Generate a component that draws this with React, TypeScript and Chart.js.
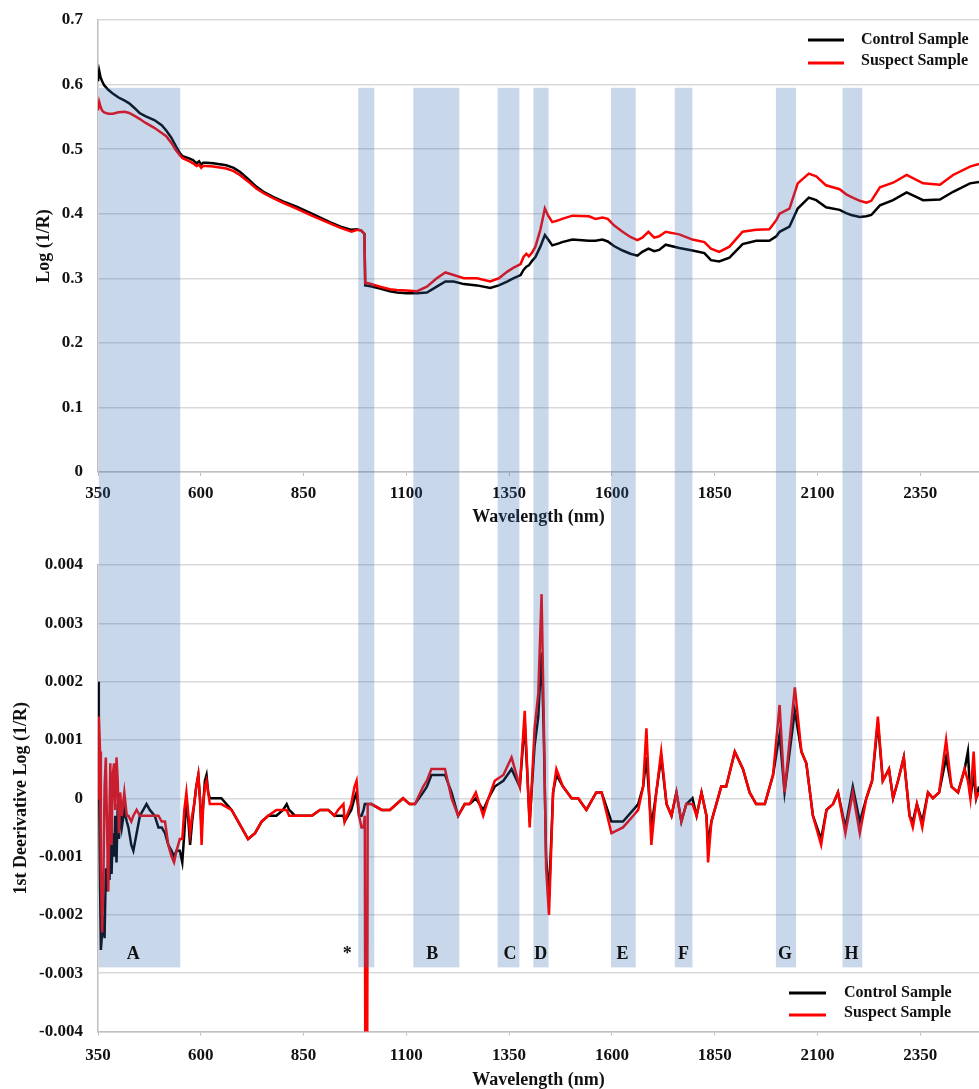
import { useEffect, useRef } from "react";
import { Chart, registerables } from "chart.js";

Chart.register(...registerables);

// ---------- axes ----------
const xTicks = [350, 600, 850, 1100, 1350, 1600, 1850, 2100, 2350];
const X_MIN = 350;
const X_MAX = 2493;
const topYTicks = [0, 0.1, 0.2, 0.3, 0.4, 0.5, 0.6, 0.7];
const derivYTicks = [-0.004, -0.003, -0.002, -0.001, 0, 0.001, 0.002, 0.003, 0.004];

const seriesNames = ["Control Sample", "Suspect Sample"];
const seriesColors = ["#000000", "#ff0000"];

// ---------- top chart: Log(1/R) ----------
const topWavelength = [
  350, 353, 356, 360, 365, 375, 386, 400, 415, 426,
  440, 451, 465, 487, 505, 516, 528, 540, 550, 556,
  570, 581, 590, 596, 601, 606, 613, 630, 662, 680,
  695, 715, 735, 755, 776, 800, 833, 870, 914, 940,
  967, 980, 990, 998, 1000, 1010, 1036, 1060, 1077, 1100,
  1126, 1150, 1174, 1195, 1215, 1240, 1272, 1304, 1325, 1345,
  1360, 1378, 1385, 1392, 1398, 1406, 1414, 1426, 1437, 1445,
  1455, 1471, 1479, 1504, 1544, 1560, 1577, 1590, 1605, 1626,
  1645, 1662, 1674, 1689, 1703, 1715, 1731, 1764, 1796, 1825,
  1841, 1861, 1886, 1918, 1951, 1983, 2000, 2008, 2032, 2052,
  2079, 2097, 2121, 2154, 2170, 2182, 2203, 2219, 2231, 2252,
  2284, 2317, 2357, 2398, 2430, 2471, 2493,
];
const topControl = [
  0.605, 0.621, 0.612, 0.605, 0.599, 0.592, 0.586, 0.58, 0.575, 0.571,
  0.563, 0.556, 0.551, 0.545, 0.537, 0.529, 0.518, 0.504, 0.493, 0.489,
  0.486, 0.483, 0.478, 0.481, 0.476, 0.479, 0.479, 0.478, 0.475, 0.471,
  0.465, 0.454, 0.442, 0.433, 0.426, 0.419, 0.411, 0.4, 0.387, 0.38,
  0.375, 0.376, 0.374, 0.369, 0.289, 0.288, 0.284, 0.28, 0.278, 0.277,
  0.277, 0.278, 0.287, 0.295, 0.295, 0.291, 0.289, 0.285, 0.289, 0.295,
  0.3, 0.305, 0.313, 0.318, 0.32, 0.327, 0.333, 0.349, 0.367, 0.36,
  0.351, 0.354, 0.356, 0.36, 0.358, 0.358, 0.36, 0.357, 0.35, 0.343,
  0.338, 0.335, 0.341, 0.346, 0.342, 0.344, 0.352, 0.347, 0.343, 0.339,
  0.328, 0.326, 0.332, 0.353, 0.358, 0.358, 0.365, 0.372, 0.38, 0.408,
  0.425, 0.421, 0.41, 0.406, 0.401, 0.398, 0.395, 0.396, 0.398, 0.413,
  0.421, 0.433, 0.421, 0.422, 0.434, 0.447, 0.449,
];
const topSuspect = [
  0.56, 0.573, 0.566, 0.56, 0.557, 0.555, 0.555, 0.557, 0.558, 0.556,
  0.551, 0.547, 0.541, 0.533, 0.525, 0.52, 0.51, 0.498, 0.49, 0.486,
  0.482, 0.478, 0.474, 0.476, 0.471, 0.474, 0.474, 0.473, 0.47, 0.466,
  0.46, 0.45, 0.439, 0.431, 0.424, 0.417, 0.408, 0.397, 0.385, 0.378,
  0.372, 0.375, 0.374, 0.369, 0.293, 0.292, 0.287, 0.283, 0.282, 0.281,
  0.28, 0.287, 0.3, 0.309, 0.305, 0.3, 0.3, 0.295, 0.3, 0.31,
  0.316, 0.322, 0.333, 0.338, 0.334, 0.34, 0.349, 0.375, 0.408, 0.397,
  0.387, 0.39, 0.392, 0.397, 0.396, 0.392, 0.394, 0.392, 0.382, 0.372,
  0.364, 0.359, 0.363, 0.372, 0.363, 0.365, 0.372, 0.368, 0.36, 0.356,
  0.346, 0.341, 0.349, 0.372, 0.375, 0.376, 0.39, 0.4, 0.408, 0.447,
  0.462, 0.458, 0.444, 0.438, 0.43, 0.426, 0.42, 0.417, 0.42, 0.441,
  0.448, 0.46, 0.447, 0.445, 0.46, 0.473, 0.477,
];

// ---------- bottom chart: 1st derivative ----------
const derivWavelength = [
  350, 352, 355, 357, 360, 363, 366, 369, 372, 375,
  378, 380, 383, 386, 389, 392, 395, 398, 401, 404,
  408, 414, 420, 424, 431, 436, 444, 452, 460, 468,
  476, 488, 497, 505, 513, 521, 529, 535, 541, 549,
  555, 560, 565, 570, 574, 579, 584, 589, 594, 598,
  602, 606, 610, 614, 618, 622, 650, 675, 699, 715,
  732, 748, 764, 784, 800, 809, 815, 829, 850, 870,
  890, 910, 925, 934, 947, 950, 966, 974, 979, 985,
  991, 996, 999, 1001, 1004, 1006, 1015, 1040, 1060, 1092,
  1108, 1121, 1141, 1150, 1161, 1172, 1181, 1194, 1210, 1226,
  1242, 1254, 1269, 1287, 1300, 1315, 1336, 1356, 1376, 1388,
  1400, 1412, 1421, 1429, 1434, 1440, 1447, 1457, 1465, 1481,
  1502, 1518, 1538, 1562, 1575, 1599, 1627, 1652, 1664, 1676,
  1684, 1696, 1708, 1720, 1733, 1745, 1757, 1769, 1781, 1796,
  1806, 1818, 1830, 1834, 1842, 1854, 1866, 1878, 1899, 1919,
  1935, 1951, 1972, 1992, 2008, 2020, 2045, 2061, 2073, 2089,
  2109, 2122, 2138, 2150, 2168, 2186, 2203, 2219, 2233, 2247,
  2259, 2274, 2284, 2296, 2310, 2324, 2332, 2342, 2355, 2369,
  2381, 2396, 2413, 2426, 2442, 2458, 2466, 2472, 2480, 2486,
  2493,
];
const derivControl = [
  0.002, 0.0012, -0.0015, -0.0026, -0.0023, -0.002, -0.0024, -0.0012, -0.0016, -0.0009,
  -0.0014, -0.0008, -0.0013, -0.0006, -0.001, -0.0003, -0.0011, -0.0001, -0.0007, -0.0002,
  -0.0005, -0.0002, -0.0004, -0.0005, -0.0008, -0.0009, -0.0006, -0.0003, -0.0002, -0.0001,
  -0.0002, -0.0003, -0.0005, -0.0005, -0.0006, -0.0008, -0.0009, -0.001, -0.0009, -0.0009,
  -0.0011, -0.0006, 0.0, -0.0004, -0.0008, -0.0004, -0.0001, 0.0002, 0.0004, 0.0,
  -0.0005, -0.0001, 0.0003, 0.0004, 0.0001, 0.0, 0.0, -0.0002, -0.0005, -0.0007,
  -0.0006, -0.0004, -0.0003, -0.0003, -0.0002, -0.0001, -0.0002, -0.0003, -0.0003, -0.0003,
  -0.0002, -0.0002, -0.0003, -0.0003, -0.0003, -0.0004, -0.0002, 0.0, 0.0001, -0.0003,
  -0.0003, -0.0002, -0.0001, -0.0001, -0.0001, -0.0001, -0.0001, -0.0002, -0.0002, 0.0,
  -0.0001, -0.0001, 0.0001, 0.0002, 0.0004, 0.0004, 0.0004, 0.0004, 0.0001, -0.0003,
  -0.0001, -0.0001, 0.0, -0.0002, 0.0, 0.0002, 0.0003, 0.0005, 0.0002, 0.0013,
  -0.0004, 0.0009, 0.0014, 0.0025, 0.0012, -0.001, -0.0017, 0.0001, 0.0004, 0.0002,
  0.0, 0.0, -0.0002, 0.0001, 0.0001, -0.0004, -0.0004, -0.0002, -0.0001, 0.0002,
  0.0007, -0.0005, 0.0001, 0.0007, -0.0001, -0.0003, 0.0001, -0.0004, -0.0001, 0.0,
  -0.0003, 0.0001, -0.0003, -0.0008, -0.0004, -0.0001, 0.0002, 0.0002, 0.0008, 0.0005,
  0.0001, -0.0001, -0.0001, 0.0004, 0.0011, 0.0001, 0.0015, 0.0008, 0.0006, -0.0003,
  -0.0007, -0.0002, -0.0001, 0.0001, -0.0005, 0.0002, -0.0004, 0.0, 0.0003, 0.0013,
  0.0003, 0.0005, 0.0, 0.0003, 0.0007, -0.0003, -0.0004, -0.0001, -0.0004, 0.0001,
  0.0, 0.0001, 0.0007, 0.0002, 0.0001, 0.0005, 0.0008, 0.0, 0.0004, 0.0,
  0.0002,
];
const derivSuspect = [
  0.0, 0.0014, 0.0008, -0.0012, -0.0023, -0.0015, 0.0002, 0.0007, -0.0005, -0.0016,
  -0.0002, 0.0006, -0.0008, 0.0004, 0.0006, -0.0002, 0.0007, 0.0003, -0.0006, 0.0001,
  -0.0003, 0.0001, -0.0003, -0.0003, -0.0004, -0.0003, -0.0002, -0.0003, -0.0003, -0.0003,
  -0.0003, -0.0003, -0.0003, -0.0004, -0.0004, -0.0008, -0.001, -0.0011, -0.0009, -0.0007,
  -0.0007, -0.0002, 0.0001, -0.0003, -0.0006, -0.0003, -0.0001, 0.0002, 0.0004, 0.0,
  -0.0008, -0.0001, 0.0002, 0.0003, 0.0001, -0.0001, -0.0001, -0.0002, -0.0005, -0.0007,
  -0.0006, -0.0004, -0.0003, -0.0002, -0.0002, -0.0002, -0.0003, -0.0003, -0.0003, -0.0003,
  -0.0002, -0.0002, -0.0003, -0.0002, -0.0001, -0.0004, -0.0001, 0.0002, 0.0003, -0.0003,
  -0.0005, -0.0005, -0.0003, -0.008, -0.008, -0.0001, -0.0001, -0.0002, -0.0002, 0.0,
  -0.0001, -0.0001, 0.0002, 0.0003, 0.0005, 0.0005, 0.0005, 0.0005, 0.0, -0.0003,
  -0.0001, -0.0001, 0.0001, -0.0003, 0.0, 0.0003, 0.0004, 0.0007, 0.0002, 0.0015,
  -0.0005, 0.0012, 0.0018, 0.0035, 0.0015, -0.0012, -0.002, 0.0001, 0.0005, 0.0002,
  0.0, 0.0, -0.0002, 0.0001, 0.0001, -0.0006, -0.0005, -0.0003, -0.0002, 0.0002,
  0.0012, -0.0008, 0.0001, 0.0008, -0.0001, -0.0003, 0.0001, -0.0004, -0.0001, -0.0001,
  -0.0003, 0.0001, -0.0003, -0.0011, -0.0004, -0.0001, 0.0002, 0.0002, 0.0008, 0.0005,
  0.0001, -0.0001, -0.0001, 0.0004, 0.0016, 0.0001, 0.0019, 0.0008, 0.0006, -0.0003,
  -0.0008, -0.0002, -0.0001, 0.0001, -0.0006, 0.0001, -0.0006, 0.0, 0.0003, 0.0014,
  0.0003, 0.0005, 0.0, 0.0003, 0.0007, -0.0003, -0.0005, -0.0001, -0.0005, 0.0001,
  0.0, 0.0001, 0.001, 0.0002, 0.0001, 0.0005, 0.0003, 0.0, 0.0008, 0.0,
  0.0001,
];

// ---------- highlighted regions ----------
const bandStart = [352, 983, 1117, 1322, 1409, 1598, 1753, 1999, 2161];
const bandEnd = [550, 1022, 1229, 1375, 1446, 1658, 1796, 2048, 2209];
const bandLabels = ["A", "*", "B", "C", "D", "E", "F", "G", "H"];
const bandLabelAt = [436, 956, 1163, 1352, 1427, 1626, 1774, 2021, 2183];
const BAND_TOP_VALUE = 0.595;
const BAND_BOTTOM_VALUE = -0.0029;
const BAND_LABEL_VALUE = -0.00268;

// ---------- styling ----------
const FONT = "'Liberation Serif', 'Times New Roman', Times, serif";
const TEXT = "#111111";
const GRID = "#d9d9d9";
const AXIS = "#bfbfbf";
const BAND_FILL = "rgba(52,112,176,0.27)";

function toPoints(xs: number[], ys: number[]) {
  return xs.map((x, i) => ({ x, y: ys[i] }));
}

function makeDatasets(xs: number[], control: number[], suspect: number[]) {
  return [
    {
      label: seriesNames[0],
      data: toPoints(xs, control),
      borderColor: seriesColors[0],
      backgroundColor: seriesColors[0],
      borderWidth: 2.5,
      pointRadius: 0,
      tension: 0,
      order: 1,
    },
    {
      label: seriesNames[1],
      data: toPoints(xs, suspect),
      borderColor: seriesColors[1],
      backgroundColor: seriesColors[1],
      borderWidth: 2.5,
      pointRadius: 0,
      tension: 0,
      order: 0,
    },
  ];
}

type Cfg = {
  yMin: number;
  yMax: number;
  yTicks: number[];
  yFmt: (v: number) => string;
  yTitle: string;
  yTitlePad: number;
  xHeight: number;
  xTickPad: number;
  xTitlePad: number;
  padTop: number;
  bandsFromTop: boolean;
  legendLineX: [number, number];
  legendTextX: number;
  legendY: [number, number];
  showBandLabels: boolean;
};

function overlayPlugin(cfg: Cfg) {
  return {
    id: "overlay",
    afterDraw(chart: any) {
      const { ctx } = chart;
      const x = chart.scales.x;
      const y = chart.scales.y;
      ctx.save();
      // translucent highlight bands
      ctx.fillStyle = BAND_FILL;
      for (let i = 0; i < bandStart.length; i++) {
        const x0 = x.getPixelForValue(bandStart[i]);
        const x1 = x.getPixelForValue(bandEnd[i]);
        let y0: number;
        let y1: number;
        if (cfg.bandsFromTop) {
          y0 = y.getPixelForValue(BAND_TOP_VALUE);
          y1 = chart.height;
        } else {
          y0 = 0;
          y1 = y.getPixelForValue(BAND_BOTTOM_VALUE);
        }
        ctx.fillRect(x0, y0, x1 - x0, y1 - y0);
      }
      // band letters
      if (cfg.showBandLabels) {
        ctx.fillStyle = TEXT;
        ctx.font = `bold 18px ${FONT}`;
        ctx.textAlign = "center";
        ctx.textBaseline = "middle";
        const ly = y.getPixelForValue(BAND_LABEL_VALUE);
        for (let i = 0; i < bandLabels.length; i++) {
          ctx.fillText(bandLabels[i], x.getPixelForValue(bandLabelAt[i]), ly);
        }
      }
      // legend
      ctx.font = `bold 16px ${FONT}`;
      ctx.textAlign = "left";
      ctx.textBaseline = "middle";
      for (let i = 0; i < seriesNames.length; i++) {
        const ly = cfg.legendY[i];
        ctx.strokeStyle = seriesColors[i];
        ctx.lineWidth = 3;
        ctx.beginPath();
        ctx.moveTo(cfg.legendLineX[0], ly + (i === 1 ? 2 : 0));
        ctx.lineTo(cfg.legendLineX[1], ly + (i === 1 ? 2 : 0));
        ctx.stroke();
        ctx.fillStyle = TEXT;
        ctx.fillText(seriesNames[i], cfg.legendTextX, ly);
      }
      ctx.restore();
    },
  };
}

function buildConfig(cfg: Cfg, datasets: any[]): any {
  return {
    type: "line",
    data: { datasets },
    plugins: [overlayPlugin(cfg)],
    options: {
      responsive: false,
      animation: false,
      devicePixelRatio: 1,
      events: [],
      layout: { padding: { top: cfg.padTop, left: 0, right: 0, bottom: 0 } },
      plugins: { legend: { display: false }, tooltip: { enabled: false } },
      elements: { point: { radius: 0 }, line: { tension: 0 } },
      scales: {
        x: {
          type: "linear",
          min: X_MIN,
          max: X_MAX,
          afterBuildTicks: (s: any) => {
            s.ticks = xTicks.map((v) => ({ value: v }));
          },
          ticks: {
            font: { family: FONT, size: 17, weight: "bold" },
            color: TEXT,
            padding: cfg.xTickPad,
            maxRotation: 0,
            autoSkip: false,
            callback: (v: any) => String(v),
          },
          grid: { drawOnChartArea: false, drawTicks: true, tickLength: 4, color: AXIS },
          border: { color: AXIS, width: 1.5 },
          title: {
            display: true,
            text: "Wavelength (nm)",
            font: { family: FONT, size: 18, weight: "bold", lineHeight: 1 },
            color: TEXT,
            padding: { top: 0, bottom: cfg.xTitlePad },
          },
          afterFit: (s: any) => {
            s.height = cfg.xHeight;
          },
        },
        y: {
          type: "linear",
          min: cfg.yMin,
          max: cfg.yMax,
          afterBuildTicks: (s: any) => {
            s.ticks = cfg.yTicks.map((v) => ({ value: v }));
          },
          ticks: {
            font: { family: FONT, size: 17, weight: "bold" },
            color: TEXT,
            padding: 0,
            callback: (v: any) => cfg.yFmt(Number(v)),
          },
          grid: {
            color: GRID,
            lineWidth: 1.5,
            drawTicks: true,
            tickLength: 15,
            tickColor: "rgba(0,0,0,0)",
          },
          border: { color: AXIS, width: 1.5 },
          title: {
            display: true,
            text: cfg.yTitle,
            font: { family: FONT, size: 18, weight: "bold" },
            color: TEXT,
            padding: { top: cfg.yTitlePad, bottom: 0 },
          },
          afterFit: (s: any) => {
            s.width = 98;
          },
        },
      },
    },
  };
}

export default function App() {
  const topRef = useRef<HTMLCanvasElement>(null);
  const bottomRef = useRef<HTMLCanvasElement>(null);

  useEffect(() => {
    const topCfg: Cfg = {
      yMin: 0,
      yMax: 0.7,
      yTicks: topYTicks,
      yFmt: (v) => (v === 0 ? "0" : v.toFixed(1)),
      yTitle: "Log (1/R)",
      yTitlePad: 34,
      xHeight: 68,
      xTickPad: 7,
      xTitlePad: 14,
      padTop: 20,
      bandsFromTop: true,
      legendLineX: [808, 844],
      legendTextX: 861,
      legendY: [40, 61],
      showBandLabels: false,
    };
    const bottomCfg: Cfg = {
      yMin: -0.004,
      yMax: 0.004,
      yTicks: derivYTicks,
      yFmt: (v) => (Math.abs(v) < 1e-9 ? "0" : v.toFixed(3)),
      yTitle: "1st Deerivative Log (1/R)",
      yTitlePad: 11,
      xHeight: 57.5,
      xTickPad: 10,
      xTitlePad: 0,
      padTop: 25,
      bandsFromTop: false,
      legendLineX: [789, 826],
      legendTextX: 844,
      legendY: [453, 473],
      showBandLabels: true,
    };
    const top = new Chart(
      topRef.current as HTMLCanvasElement,
      buildConfig(topCfg, makeDatasets(topWavelength, topControl, topSuspect))
    );
    const bottom = new Chart(
      bottomRef.current as HTMLCanvasElement,
      buildConfig(bottomCfg, makeDatasets(derivWavelength, derivControl, derivSuspect))
    );
    return () => {
      top.destroy();
      bottom.destroy();
    };
  }, []);

  return (
    <div
      style={{
        position: "absolute",
        left: 0,
        top: 0,
        width: 979,
        height: 1089,
        background: "#ffffff",
        overflow: "hidden",
      }}
    >
      <canvas
        ref={topRef}
        width={979}
        height={540}
        style={{ position: "absolute", left: 0, top: 0, width: 979, height: 540 }}
      />
      <canvas
        ref={bottomRef}
        width={979}
        height={549}
        style={{ position: "absolute", left: 0, top: 540, width: 979, height: 549 }}
      />
    </div>
  );
}
